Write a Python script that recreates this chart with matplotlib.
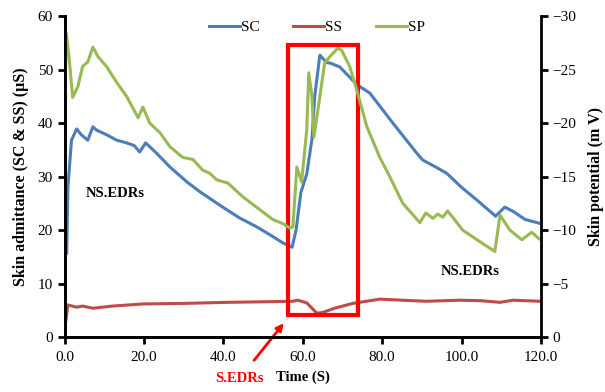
import matplotlib
matplotlib.use("Agg")
import matplotlib.pyplot as plt
from matplotlib.patches import Rectangle

plt.rcParams['font.family'] = ['Liberation Serif', 'DejaVu Serif']

# skin conductance (SC), uS
sc_t = [0.5, 0.8, 1.7, 3.0, 4.2, 5.8, 7.1, 8.0, 10.6, 13.1, 15.6, 17.5, 18.9, 20.4,
        23.1, 26.5, 30.8, 34.0, 39.8, 44.0, 48.4, 52.0, 55.0, 57.3, 58.3, 59.5,
        61.0, 62.3, 63.0, 64.3, 66.0, 67.0, 69.3, 71.8, 73.6, 76.9, 82.7, 88.7,
        90.2, 93.0, 96.3, 100.0, 103.9, 108.6, 110.9, 113.0, 116.0, 119.5]
sc_v = [15.7, 28.0, 36.8, 38.9, 37.8, 36.8, 39.3, 38.7, 37.8, 36.8, 36.3, 35.8, 34.6, 36.3,
        34.4, 31.8, 29.0, 27.2, 24.3, 22.3, 20.6, 19.0, 17.6, 16.8, 20.0, 27.0,
        30.5, 37.0, 45.0, 52.7, 51.3, 51.2, 50.5, 48.6, 47.2, 45.6, 40.0, 34.4,
        33.1, 32.0, 30.6, 28.0, 25.6, 22.6, 24.3, 23.5, 22.0, 21.3]

# skin susceptance (SS), uS
ss_t = [0.3, 0.8, 3.0, 4.5, 7.1, 12.0, 19.7, 30.0, 40.8, 50.0, 57.5, 58.7, 61.0,
        63.5, 65.0, 68.0, 72.6, 79.4, 85.0, 91.2, 99.6, 105.0, 109.7, 113.0, 119.7]
ss_v = [3.2, 6.0, 5.6, 5.8, 5.4, 5.8, 6.2, 6.3, 6.5, 6.6, 6.7, 6.9, 6.4,
        4.5, 4.6, 5.4, 6.3, 7.1, 6.9, 6.7, 6.9, 6.8, 6.5, 6.9, 6.7]

# skin potential (SP), mV
sp_t = [0.0, 0.4, 1.0, 2.0, 3.3, 4.5, 5.8, 7.1, 8.4, 10.5, 13.1, 15.6, 18.5, 19.7,
        21.4, 24.0, 26.5, 29.7, 32.3, 34.8, 36.6, 38.3, 41.1, 44.9, 49.2, 52.4,
        55.0, 56.7, 57.5, 58.5, 59.7, 61.0, 61.5, 62.3, 62.8, 63.8, 65.5, 66.8,
        68.8, 69.8, 71.8, 73.6, 76.1, 79.4, 81.9, 85.2, 89.5, 91.0, 92.8, 94.0,
        95.3, 96.5, 100.3, 103.9, 108.4, 109.7, 112.2, 115.2, 117.7, 119.5]
sp_v = [-22.2, -28.4, -26.5, -22.4, -23.4, -25.3, -25.7, -27.1, -26.2, -25.3, -23.8, -22.5, -20.5, -21.5,
        -20.0, -19.1, -17.8, -16.8, -16.6, -15.6, -15.3, -14.7, -14.4, -13.1, -11.9, -11.0,
        -10.6, -10.2, -10.3, -15.9, -14.5, -19.4, -24.7, -22.5, -18.7, -21.2, -25.6, -26.2,
        -27.0, -26.8, -25.3, -23.1, -19.7, -16.8, -15.0, -12.5, -10.7, -11.6, -11.1, -11.5,
        -11.2, -11.8, -10.0, -9.1, -8.0, -11.4, -10.0, -9.1, -9.8, -9.2]

# highlighted stimulus window
box_t0, box_t1 = 56.2, 73.9
box_y0, box_y1 = 4.1, 54.6

fig = plt.figure(figsize=(6.05, 3.92), dpi=100)
ax = fig.add_axes([0.107, 0.140, 0.787, 0.819])
ax2 = ax.twinx()

l1, = ax.plot(sc_t, sc_v, color='#4a7ebb', lw=2.2, label='SC')
l2, = ax.plot(ss_t, ss_v, color='#be4b48', lw=2.2, label='SS')
l3, = ax2.plot(sp_t, sp_v, color='#98b954', lw=2.2, label='SP')

ax.set_xlim(0, 120)
ax.set_ylim(0, 60)
ax2.set_ylim(0, -30)
ax.set_xticks(range(0, 121, 20))
ax.set_xticklabels([f'{v:.1f}' for v in range(0, 121, 20)])
ax.set_yticks(range(0, 61, 10))
ax2.set_yticks(range(0, -31, -5))

for a in (ax, ax2):
    a.spines['top'].set_visible(False)
    for s in ('left', 'right', 'bottom'):
        a.spines[s].set_linewidth(2)
    a.tick_params(width=2, length=5, labelsize=11)
ax.spines['right'].set_visible(False)
ax.tick_params(axis='x', pad=5)

ax.set_xlabel('Time (S)', fontsize=10.5, fontweight='bold', labelpad=5)
ax.set_ylabel('Skin admittance (SC & SS) (\u00b5S)', fontsize=11.5, fontweight='bold', labelpad=6)
ax2.set_ylabel('Skin potential (m V)', fontsize=11.5, fontweight='bold', labelpad=8)

ax.add_patch(Rectangle((box_t0, box_y0), box_t1 - box_t0, box_y1 - box_y0,
                       fill=False, edgecolor='#ff0000', lw=3, zorder=5))

ax.text(12.6, 26.9, 'NS.EDRs', fontsize=10.5, fontweight='bold', ha='center', va='center')
ax.text(102.3, 12.2, 'NS.EDRs', fontsize=10.5, fontweight='bold', ha='center', va='center')
ax.annotate('S.EDRs', xy=(55.2, 2.6), xytext=(44.1, -7.7), textcoords='data',
            fontsize=10.5, fontweight='bold', color='#ff0000', ha='center', va='center',
            annotation_clip=False,
            arrowprops=dict(arrowstyle='-|>', color='#ff0000', lw=2, shrinkA=8, shrinkB=0))

ax.legend(handles=[l1, l2, l3], loc='upper center', bbox_to_anchor=(0.53, 1.03), ncol=3,
          frameon=False, fontsize=11, handlelength=2.0, handletextpad=0.1, columnspacing=2.2)

fig.savefig('out.png', dpi=100)
